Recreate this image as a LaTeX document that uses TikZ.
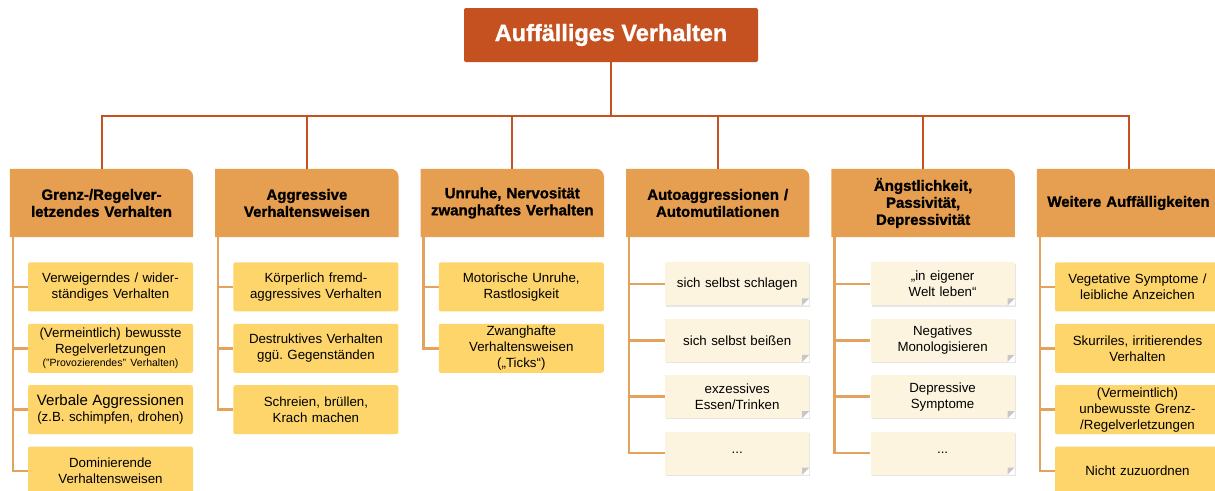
\documentclass[tikz,border=0pt]{standalone}
\usepackage{fontspec}
\setmainfont{Liberation Sans}
\newfontfamily\heavyfont{Liberation Sans}[BoldFeatures={FakeBold=1.3}]
\usetikzlibrary{positioning,shadows,backgrounds}
\definecolor{rootred}{HTML}{C4511F}
\definecolor{catorange}{HTML}{E69F50}
\definecolor{itemyellow}{HTML}{FDD56B}
\definecolor{notecream}{HTML}{FDF4E0}
\definecolor{branchorange}{HTML}{E3A35E}

\begin{document}
\begin{tikzpicture}[x=1pt,y=1pt,node distance=22pt,
    root/.style={fill=rootred,text=white,rounded corners=2pt,minimum width=294pt,minimum height=54pt,
                 font=\fontsize{23.5}{27}\selectfont\heavyfont\bfseries},
    cat/.style={minimum width=183pt,minimum height=68pt,inner sep=0pt,align=center,text width=182pt,
                font=\fontsize{15}{17}\selectfont\heavyfont\bfseries},
    item/.style={fill=itemyellow,rounded corners=2pt,minimum width=165pt,minimum height=49pt,inner sep=0pt,
                 align=center,text width=163pt,font=\fontsize{13.3}{16}\selectfont},
    note/.style={fill=notecream,minimum width=144pt,minimum height=43pt,inner sep=0pt,
                 align=center,text width=142pt,font=\fontsize{13.3}{16}\selectfont,
                 drop shadow={shadow xshift=1.2pt,shadow yshift=-1.2pt,opacity=.2},
                 path picture={\fill[white] (path picture bounding box.south east) -- ++(-7pt,0) -- ++(7pt,7pt) -- cycle;
                               \fill[black!22] ([xshift=-7pt]path picture bounding box.south east) -- ++(7pt,7pt) -- ++(-7pt,0) -- cycle;}},
    trunk/.style={rootred,line width=2pt},
    branch/.style={branchorange,line width=2.5pt}
                   ]
    \useasboundingbox (0,0) rectangle (1215,-490);

    \node[root] (root) at (611,-35) {Auffälliges Verhalten};
    \coordinate (bus) at (611,-116);

    % categories
    \node[cat] (h1) at (101.5,-203) {Grenz-/Regelver-\\letzendes Verhalten};
    \node[cat,right=of h1] (h2) {Aggressive\\Verhaltensweisen};
    \node[cat,right=of h2] (h3) {Unruhe, Nervosität\\zwanghaftes Verhalten};
    \node[cat,right=of h3] (h4) {Autoaggressionen /\\Automutilationen};
    \node[cat,right=of h4] (h5) {Ängstlichkeit,\\Passivität,\\Depressivität};
    \node[cat,right=of h5] (h6) {Weitere Auffälligkeiten};

    \begin{scope}[on background layer]
    \foreach \h in {h1,h2,h3,h4,h5,h6}
      \fill[catorange] (\h.south west) -- (\h.north west) [rounded corners=8pt] -- (\h.north east)
                       [sharp corners] -- (\h.south east) -- cycle;
    \end{scope}

    % column 1
    \node[item,below left=25pt and 0pt of h1.south east] (a1) {Verweigerndes / wider-\\ständiges Verhalten};
    \node[item,below=12pt of a1] (a2) {(Vermeintlich) bewusste\\Regelverletzungen\\[-3pt]{\fontsize{10.5}{12}\selectfont("Provozierendes" Verhalten)}};
    \node[item,below=12pt of a2] (a3) {{\fontsize{15}{17}\selectfont Verbale Aggressionen}\\(z.B. schimpfen, drohen)};
    \node[item,below=12pt of a3] (a4) {Dominierende\\Verhaltensweisen};

    % column 2
    \node[item,below left=25pt and 0pt of h2.south east] (b1) {Körperlich fremd-\\aggressives Verhalten};
    \node[item,below=12pt of b1] (b2) {Destruktives Verhalten\\ggü.\ Gegenständen};
    \node[item,below=12pt of b2] (b3) {Schreien, brüllen,\\Krach machen};

    % column 3
    \node[item,below left=25pt and 0pt of h3.south east] (c1) {Motorische Unruhe,\\Rastlosigkeit};
    \node[item,below=12pt of c1] (c2) {Zwanghafte\\Verhaltensweisen\\(„Ticks“)};

    % column 4
    \node[note,below left=25pt and 0pt of h4.south east] (d1) {sich selbst schlagen};
    \node[note,below=13pt of d1] (d2) {sich selbst beißen};
    \node[note,below=13pt of d2] (d3) {exzessives\\Essen/Trinken};
    \node[note,below=13pt of d3] (d4) {...};

    % column 5
    \node[note,below left=25pt and 0pt of h5.south east] (e1) {„in eigener\\Welt leben“};
    \node[note,below=13pt of e1] (e2) {Negatives\\Monologisieren};
    \node[note,below=13pt of e2] (e3) {Depressive\\Symptome};
    \node[note,below=13pt of e3] (e4) {...};

    % column 6
    \node[item,below left=25pt and 0pt of h6.south east] (f1) {Vegetative Symptome /\\leibliche Anzeichen};
    \node[item,below=12pt of f1] (f2) {Skurriles, irritierendes\\Verhalten};
    \node[item,below=12pt of f2] (f3) {(Vermeintlich)\\unbewusste Grenz-\\/Regelverletzungen};
    \node[item,below=12pt of f3] (f4) {Nicht zuzuordnen};

    % connectors
    \foreach \h in {h1,h2,h3,h4,h5,h6}
      \draw[trunk] (root.south) -- (bus) -| (\h.north);
    \begin{scope}[on background layer]
    \foreach \c in {a1,a2,a3,a4}
      \draw[branch] ([xshift=3pt]h1.south west) |- (\c.west);
    \foreach \c in {b1,b2,b3}
      \draw[branch] ([xshift=3pt]h2.south west) |- (\c.west);
    \foreach \c in {c1,c2}
      \draw[branch] ([xshift=3pt]h3.south west) |- (\c.west);
    \foreach \c in {d1,d2,d3,d4}
      \draw[branch] ([xshift=3pt]h4.south west) |- (\c.west);
    \foreach \c in {e1,e2,e3,e4}
      \draw[branch] ([xshift=3pt]h5.south west) |- (\c.west);
    \foreach \c in {f1,f2,f3,f4}
      \draw[branch] ([xshift=3pt]h6.south west) |- (\c.west);
    \end{scope}

\end{tikzpicture}
\end{document}
